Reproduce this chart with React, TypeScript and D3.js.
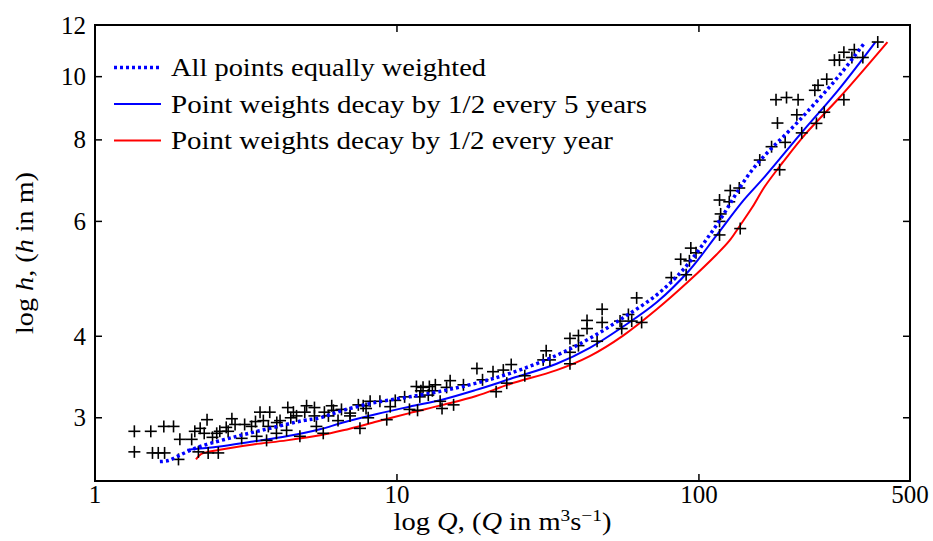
import React from 'react';
import * as d3 from 'd3';

const W = 933;
const H = 541;

const xTickValues = [1, 10, 100, 500];
const xTickLabels = ['1', '10', '100', '500'];
const yTickValues = [3, 4, 6, 8, 10, 12];
const yTickLabels = ['3', '4', '6', '8', '10', '12'];

const seriesNames = [
  'All points equally weighted',
  'Point weights decay by 1/2 every 5 years',
  'Point weights decay by 1/2 every year',
];

// observed gaugings (Q in m3/s, h in m)
const obsQ = [
  1.35, 1.35, 1.53, 1.55, 1.62, 1.70, 1.69, 1.82, 1.91, 1.89, 2.09, 2.14, 2.23, 2.35, 2.20, 2.37,
  2.56, 2.53, 2.59, 2.84, 2.91, 2.76, 3.06, 3.30, 3.52, 3.79, 3.61, 3.75, 3.43, 3.70, 3.99, 4.10,
  4.54, 4.65, 4.95, 5.02, 4.77, 4.31, 5.41, 5.33, 5.33, 6.08, 6.16, 5.93, 6.55, 6.38, 5.70, 6.99,
  7.45, 7.73, 8.15, 8.78, 8.03, 7.54, 9.25, 9.87, 10.6, 11.0, 11.6, 12.2, 12.8, 13.4, 11.9, 12.7,
  13.9, 11.7, 14.1, 15.0, 16.6, 15.4, 18.4, 20.8, 22.5, 21.3, 19.2, 23.1, 23.9, 26.5, 31.2, 30.5,
  32.1, 37.4, 37.4, 37.4, 39.9, 39.9, 42.6, 42.6, 47.8, 47.8, 46.0, 54.8, 55.5, 58.4, 59.9, 62.2,
  64.6, 81.0, 90.7, 87.0, 93.0, 94.0, 97.8, 117, 117, 118, 117, 126, 127, 136, 137, 159,
  174, 185, 193, 182, 180, 195, 213, 211, 219, 245, 260, 242, 248, 265, 302, 281,
  292, 302, 327, 321, 349, 391, 3.13, 4.35, 2.45, 9.5, 13.1, 4.0, 7.0,
  2.30, 2.72, 3.40, 4.45, 5.75, 7.90, 12.0, 14.6,
];
const obsH = [
  2.86, 2.66, 2.86, 2.65, 2.65, 2.65, 2.91, 2.91, 2.78, 2.59, 2.78, 2.86, 2.89, 2.98, 2.66, 2.65,
  2.65, 2.84, 2.86, 2.99, 2.93, 2.86, 2.79, 2.91, 3.06, 3.06, 2.97, 2.91, 2.81, 2.77, 2.84, 2.97,
  3.06, 3.02, 3.06, 3.13, 2.81, 2.87, 2.91, 3.11, 3.02, 3.13, 3.08, 3.02, 3.09, 2.97, 2.84, 3.02,
  3.14, 3.13, 3.18, 3.18, 3.00, 2.89, 2.98, 3.19, 3.23, 3.09, 3.35, 3.34, 3.35, 3.37, 3.23, 3.25,
  3.18, 3.08, 3.10, 3.42, 3.37, 3.14, 3.57, 3.53, 3.55, 3.29, 3.43, 3.39, 3.62, 3.48, 3.80, 3.68,
  3.68, 3.97, 3.78, 3.63, 4.01, 3.87, 4.23, 4.11, 4.40, 4.20, 3.93, 4.22, 4.11, 4.32, 4.22, 4.58,
  4.20, 4.92, 4.97, 5.25, 5.22, 5.46, 5.37, 5.72, 6.00, 6.16, 6.47, 6.43, 6.69, 6.75, 5.85, 7.45,
  7.81, 7.20, 7.93, 8.49, 9.22, 9.29, 9.22, 8.74, 8.20, 8.48, 8.82, 9.53, 9.70, 9.91, 9.22, 10.6,
  10.6, 10.9, 11.0, 10.7, 10.7, 11.3, 2.93, 3.11, 2.80, 3.12, 3.30, 2.95, 3.05,
  2.84, 2.90, 2.96, 3.00, 3.06, 3.10, 3.30, 3.34,
];

// fitted rating curves
const fitAllQ = [1.64, 1.75, 1.88, 2.05, 2.28, 2.95, 3.79, 4.88, 5.56, 6.63, 8.58, 11.0, 14.2, 18.3, 23.7, 33.8, 43.5, 56.1, 72.5, 89, 114, 151, 216, 292, 355];
const fitAllH = [2.57, 2.58, 2.62, 2.67, 2.72, 2.81, 2.89, 2.97, 3.00, 3.08, 3.17, 3.23, 3.30, 3.39, 3.51, 3.74, 3.97, 4.27, 4.63, 5.07, 5.91, 7.22, 8.59, 10.05, 11.3];

const fit5yQ = [2.02, 2.59, 3.34, 4.31, 5.56, 6.63, 8.58, 11.0, 14.2, 18.3, 23.7, 33.8, 43.5, 56.1, 72.5, 93, 114, 140, 165, 216, 292, 384];
const fit5yH = [2.68, 2.71, 2.76, 2.81, 2.88, 2.95, 3.04, 3.12, 3.20, 3.31, 3.44, 3.63, 3.84, 4.14, 4.51, 5.05, 5.70, 6.45, 7.02, 8.15, 9.59, 11.3];

const fit1yQ = [2.16, 2.25, 2.59, 3.34, 4.31, 5.56, 6.63, 8.58, 11.0, 14.2, 18.3, 23.7, 33.8, 43.5, 56.1, 72.5, 93, 114, 126, 137, 150, 165, 190, 227, 292, 421];
const fit1yH = [2.59, 2.64, 2.68, 2.73, 2.77, 2.82, 2.87, 2.96, 3.05, 3.14, 3.24, 3.38, 3.55, 3.73, 4.01, 4.40, 4.87, 5.33, 5.60, 5.92, 6.30, 6.78, 7.40, 8.20, 9.29, 11.3];

const FONT = 'Liberation Serif';

export default function App() {
  const left = 95, right = 910, top = 25, bottom = 481;
  const x = d3.scaleLog().domain([1, 500]).range([left, right]);
  const y = d3.scaleLog().domain([2.4, 12]).range([bottom, top]);

  const line = d3
    .line<[number, number]>()
    .x((d) => x(d[0]))
    .y((d) => y(d[1]))
    .curve(d3.curveCatmullRom.alpha(0.5));

  const zip = (a: number[], b: number[]) => a.map((v, i) => [v, b[i]] as [number, number]);

  const tickLen = 7;
  const legendX0 = 114, legendX1 = 161, legendText = 171;
  const legendY = [67.5, 104, 140.5];
  const legendLens = [315, 476, 442];
  const legendStyles = [
    { stroke: '#0000ff', width: 3.5, dash: '3 3' },
    { stroke: '#0000ff', width: 2, dash: undefined },
    { stroke: '#ff0000', width: 2, dash: undefined },
  ];
  const txt = { fontFamily: FONT };

  return (
    <svg
      width={W}
      height={H}
      style={{ position: 'absolute', left: 0, top: 0, display: 'block', background: '#fff' }}
    >
      <rect x={0} y={0} width={W} height={H} fill="#fff" />
      <defs>
        <clipPath id="plotclip">
          <rect x={left} y={top} width={right - left} height={bottom - top} />
        </clipPath>
      </defs>

      {/* data */}
      <g clipPath="url(#plotclip)">
        <path d={line(zip(fit1yQ, fit1yH)) || ''} fill="none" stroke="#ff0000" strokeWidth={2} />
        <path d={line(zip(fit5yQ, fit5yH)) || ''} fill="none" stroke="#0000ff" strokeWidth={2} />
        {obsQ.map((q, i) => {
          const cx = x(q), cy = y(obsH[i]);
          return (
            <g key={i} stroke="#000" strokeWidth={1.6}>
              <line x1={cx - 6} x2={cx + 6} y1={cy} y2={cy} />
              <line x1={cx} x2={cx} y1={cy - 6} y2={cy + 6} />
            </g>
          );
        })}
        <path d={line(zip(fitAllQ, fitAllH)) || ''} fill="none" stroke="#0000ff" strokeWidth={3.5} strokeDasharray="3 3" />
      </g>

      {/* ticks */}
      <g stroke="#000" strokeWidth={1.5}>
        {xTickValues.map((v, i) => (
          <g key={'xt' + i}>
            <line x1={x(v)} x2={x(v)} y1={bottom} y2={bottom - tickLen} />
            <line x1={x(v)} x2={x(v)} y1={top} y2={top + tickLen} />
          </g>
        ))}
        {yTickValues.map((v, i) => (
          <g key={'yt' + i}>
            <line x1={left} x2={left + tickLen} y1={y(v)} y2={y(v)} />
            <line x1={right} x2={right - tickLen} y1={y(v)} y2={y(v)} />
          </g>
        ))}
      </g>

      {/* frame */}
      <rect x={left} y={top} width={right - left} height={bottom - top} fill="none" stroke="#000" strokeWidth={2} />

      {/* tick labels */}
      <g fontSize={25} fill="#000">
        {xTickValues.map((v, i) => (
          <text key={'xl' + i} x={x(v)} y={503} textAnchor="middle" style={txt}>
            {xTickLabels[i]}
          </text>
        ))}
        {yTickValues.map((v, i) => (
          <text key={'yl' + i} x={left - 9} y={y(v) + 8.5} textAnchor="end" style={txt}>
            {yTickLabels[i]}
          </text>
        ))}
      </g>

      {/* axis labels */}
      <text
        x={(left + right) / 2}
        y={530}
        textAnchor="middle"
        fontSize={25}
        fill="#000"
        style={txt}
        textLength={218}
        lengthAdjust="spacingAndGlyphs"
      >
        <tspan>log </tspan>
        <tspan fontStyle="italic">Q</tspan>
        <tspan>, (</tspan>
        <tspan fontStyle="italic">Q</tspan>
        <tspan> in m</tspan>
        <tspan fontSize={17} dy={-9}>3</tspan>
        <tspan dy={9}>s</tspan>
        <tspan fontSize={17} dy={-9}>−1</tspan>
        <tspan dy={9}>)</tspan>
      </text>
      <text
        transform={`translate(33, ${(top + bottom) / 2}) rotate(-90)`}
        textAnchor="middle"
        fontSize={25}
        fill="#000"
        style={txt}
        textLength={162}
        lengthAdjust="spacingAndGlyphs"
      >
        <tspan>log </tspan>
        <tspan fontStyle="italic">h</tspan>
        <tspan>, (</tspan>
        <tspan fontStyle="italic">h</tspan>
        <tspan> in m)</tspan>
      </text>

      {/* legend */}
      {seriesNames.map((name, i) => (
        <g key={'lg' + i}>
          <line
            x1={legendX0}
            x2={legendX1}
            y1={legendY[i]}
            y2={legendY[i]}
            stroke={legendStyles[i].stroke}
            strokeWidth={legendStyles[i].width}
            strokeDasharray={legendStyles[i].dash}
          />
          <text
            x={legendText}
            y={legendY[i] + 8.5}
            fontSize={25}
            fill="#000"
            style={txt}
            textLength={legendLens[i]}
            lengthAdjust="spacingAndGlyphs"
          >
            {name}
          </text>
        </g>
      ))}
    </svg>
  );
}
